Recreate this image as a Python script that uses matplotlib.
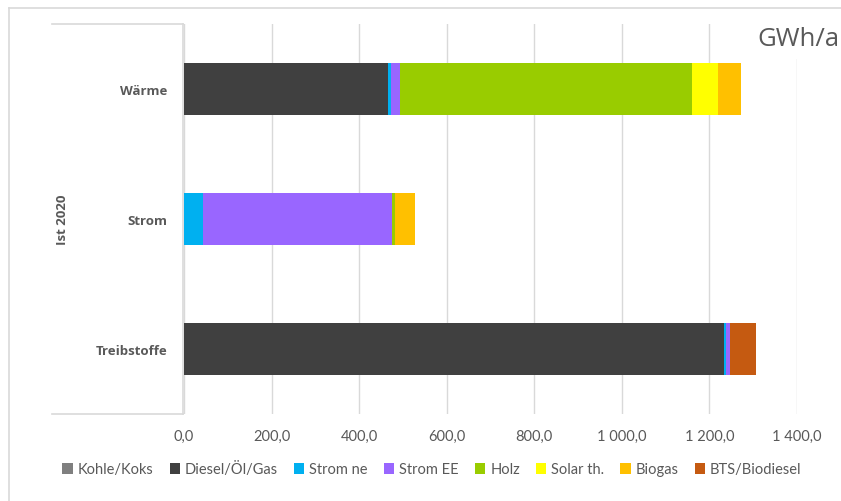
import matplotlib
matplotlib.use("Agg")
import matplotlib.pyplot as plt
from matplotlib.patches import Patch, Rectangle
from matplotlib.lines import Line2D
import numpy as np

# ---- data ----
categories = ["Treibstoffe", "Strom", "Wärme"]
group_label = "Ist 2020"
series_names = ["Kohle/Koks", "Diesel/Öl/Gas", "Strom ne", "Strom EE", "Holz",
                "Solar th.", "Biogas", "BTS/Biodiesel"]
kohle = [0, 0, 0]
diesel = [1233, 0, 467]
strom_ne = [5, 43, 5]
strom_ee = [9, 432, 21]
holz = [0, 7, 668]
solar = [0, 1, 59]
biogas = [0, 44, 52]
bts = [59, 0, 0]
xticks = [0, 200, 400, 600, 800, 1000, 1200, 1400]
xtick_labels = ["0,0", "200,0", "400,0", "600,0", "800,0", "1 000,0", "1 200,0", "1 400,0"]
unit = "GWh/a"

colors = ["#7f7f7f", "#404040", "#00b0f0", "#9966ff", "#99cc00",
          "#ffff00", "#ffc000", "#c55a11"]
series = [kohle, diesel, strom_ne, strom_ee, holz, solar, biogas, bts]

W, H = 841, 502
fig = plt.figure(figsize=(W / 100, H / 100), dpi=100)

def fx(px):
    return px / W

def fy(py):
    return 1 - py / H

ax = fig.add_axes([fx(184), fy(415), fx(797) - fx(184), fy(25) - fy(415)])

y = np.arange(len(categories))
left = np.zeros(len(categories))
for name, vals, c in zip(series_names, series, colors):
    vals = np.array(vals, dtype=float)
    ax.barh(y, vals, left=left, height=0.40, color=c, edgecolor="none", zorder=3)
    left += vals

ax.set_xlim(0, 1400)
ax.set_ylim(-0.5, 2.5)
ax.set_xticks(xticks)
ax.set_xticklabels(xtick_labels, fontfamily="Lato", fontsize=10.5, color="#595959")
ax.set_yticks(y)
ax.set_yticklabels(categories, fontfamily="Open Sans", fontweight="bold",
                   fontsize=9.5, color="#595959")
ax.tick_params(axis="x", length=0, pad=11)
ax.tick_params(axis="y", length=0, pad=12)
for s in ax.spines.values():
    s.set_visible(False)
ax.grid(axis="x", color="#d9d9d9", linewidth=1, zorder=0)
ax.set_axisbelow(True)

# category axis lines
gc = "#d9d9d9"
fig.add_artist(Line2D([fx(183), fx(183)], [fy(25), fy(415)], color=gc, lw=1.2))
fig.add_artist(Line2D([fx(52), fx(183)], [fy(25), fy(25)], color=gc, lw=1.2))
fig.add_artist(Line2D([fx(52), fx(183)], [fy(415), fy(415)], color=gc, lw=1.2))

# outer chart border
fig.add_artist(Line2D([fx(9), fx(9)], [fy(9), 0], color=gc, lw=1.2))
fig.add_artist(Line2D([fx(9), 1], [fy(9), fy(9)], color=gc, lw=1.2))

fig.text(fx(63), fy(220), group_label, rotation=90, ha="center", va="center",
         fontfamily="Open Sans", fontweight="bold", fontsize=9.5, color="#595959")

# unit text box covering gridline
fig.add_artist(Rectangle((fx(748), fy(60)), fx(841) - fx(748), fy(22) - fy(60),
                         transform=fig.transFigure, facecolor="white",
                         edgecolor="none", zorder=5))
fig.text(fx(757), fy(40), unit, ha="left", va="center", fontfamily="Open Sans",
         fontsize=18.5, color="#595959", zorder=6)

handles = [Patch(facecolor=c, edgecolor="none") for c in colors]
fig.legend(handles, series_names, loc="center", bbox_to_anchor=(fx(432), fy(470)),
           ncol=8, frameon=False, handlelength=0.7, handleheight=0.7,
           handletextpad=0.35, columnspacing=1.1,
           prop={"family": "Lato", "size": 10.5}, labelcolor="#595959")

fig.savefig("out.png", dpi=100)
